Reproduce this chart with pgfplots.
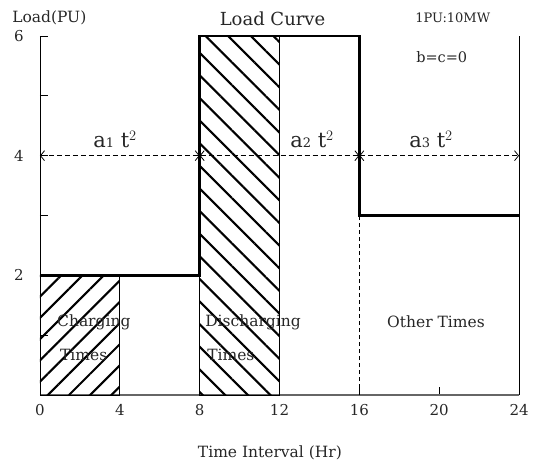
\documentclass[border=0pt]{standalone}
\usepackage{pgfplots}
\pgfplotsset{compat=1.18}
\usepackage{fontspec}
\setmainfont{DejaVu Serif}
\usetikzlibrary{patterns.meta,arrows.meta}
\begin{document}
\fontsize{15.5}{18}\selectfont
\begin{tikzpicture}
\path[use as bounding box] (-40pt,-69pt) rectangle (493pt,395pt);
\begin{axis}[
 at={(0,0)}, anchor=origin,
 x=19.96pt, y=59.83pt,
 xmin=0, xmax=24, ymin=0, ymax=6,
 axis x line*=bottom, axis y line*=left,
 x axis line style={-, draw=black!60, line width=1.6pt},
 y axis line style={-, draw=black, line width=0.8pt},
 xtick={0,4,...,24}, ytick={2,4,6}, minor ytick={1,3,5},
 tick align=inside, major tick length=8pt, minor tick length=8pt,
 tick style={black, line width=0.8pt},
 ticklabel style={font=\fontsize{15}{18}\selectfont, text=black!85},
 yticklabel style={xshift=-11pt},
 xticklabel style={yshift=-4pt},
 /pgf/number format/assume math mode=true,
 xlabel={Time Interval (Hr)},
 xlabel style={at={(axis cs:11.52,-1.05)}, anchor=base, font=\fontsize{15.5}{18}\selectfont, text=black!85},
 clip=false,
]
% hatched boxes
\addplot[draw=black, line width=0.8pt, pattern={Lines[angle=45,distance=15pt,line width=2.1pt]}]
  coordinates {(0,0) (0,2) (4,2) (4,0)} -- cycle;
\addplot[draw=black, line width=0.8pt, pattern={Lines[angle=-45,distance=16pt,line width=2.1pt]}]
  coordinates {(8,0) (8,6) (12,6) (12,0)} -- cycle;
% right frame and dashed divider
\addplot[black, line width=0.8pt] coordinates {(24,0) (24,6)};
\addplot[black, line width=0.8pt, dash pattern=on 4pt off 3pt] coordinates {(16,0) (16,3)};
% load curve
\addplot[black, line width=2.4pt] coordinates {(0,2) (8,2) (8,6) (16,6) (16,3) (24,3)};
% dashed arrows
\addplot[black, line width=0.8pt, dash pattern=on 5pt off 3pt, {Straight Barb[length=4pt,width=10pt]}-{Straight Barb[length=4pt,width=10pt]}] coordinates {(0,4) (8,4)};
\addplot[black, line width=0.8pt, dash pattern=on 5pt off 3pt, {Straight Barb[length=4pt,width=10pt]}-{Straight Barb[length=4pt,width=10pt]}] coordinates {(8,4) (16,4)};
\addplot[black, line width=0.8pt, dash pattern=on 5pt off 3pt, {Straight Barb[length=4pt,width=10pt]}-{Straight Barb[length=4pt,width=10pt]}] coordinates {(16,4) (24,4)};
% texts
\begin{scope}[every node/.style={text=black!85, inner sep=0pt}]
\node[anchor=base west, font=\fontsize{15.5}{18}\selectfont] at (axis cs:-1.40,6.22) {Load(PU)};
\node[anchor=base, font=\fontsize{18}{21}\selectfont] at (axis cs:11.65,6.18) {Load Curve};
\node[anchor=base west, font=\fontsize{13}{16}\selectfont] at (axis cs:18.79,6.22) {1PU:10MW};
\node[anchor=base west, font=\fontsize{14.5}{17}\selectfont] at (axis cs:18.84,5.55) {b=c=0};
\node[anchor=base, font=\fontsize{21}{24}\selectfont] at (axis cs:3.76,4.13) {a{\fontsize{13}{15}\selectfont 1} t$^{2}$};
\node[anchor=base, font=\fontsize{21}{24}\selectfont] at (axis cs:13.63,4.13) {a{\fontsize{13}{15}\selectfont 2} t$^{2}$};
\node[anchor=base, font=\fontsize{21}{24}\selectfont] at (axis cs:19.59,4.13) {a{\fontsize{13}{15}\selectfont 3} t$^{2}$};
\node[anchor=base west, font=\fontsize{15.5}{18}\selectfont] at (axis cs:0.85,1.14) {Charging};
\node[anchor=base west, font=\fontsize{15.5}{18}\selectfont] at (axis cs:1.00,0.585) {Times};
\node[anchor=base west, font=\fontsize{15.5}{18}\selectfont] at (axis cs:8.27,1.14) {Discharging};
\node[anchor=base west, font=\fontsize{15.5}{18}\selectfont] at (axis cs:8.37,0.585) {Times};
\node[anchor=base, font=\fontsize{15.5}{18}\selectfont] at (axis cs:19.84,1.12) {Other Times};
\end{scope}
\end{axis}
\end{tikzpicture}
\end{document}
